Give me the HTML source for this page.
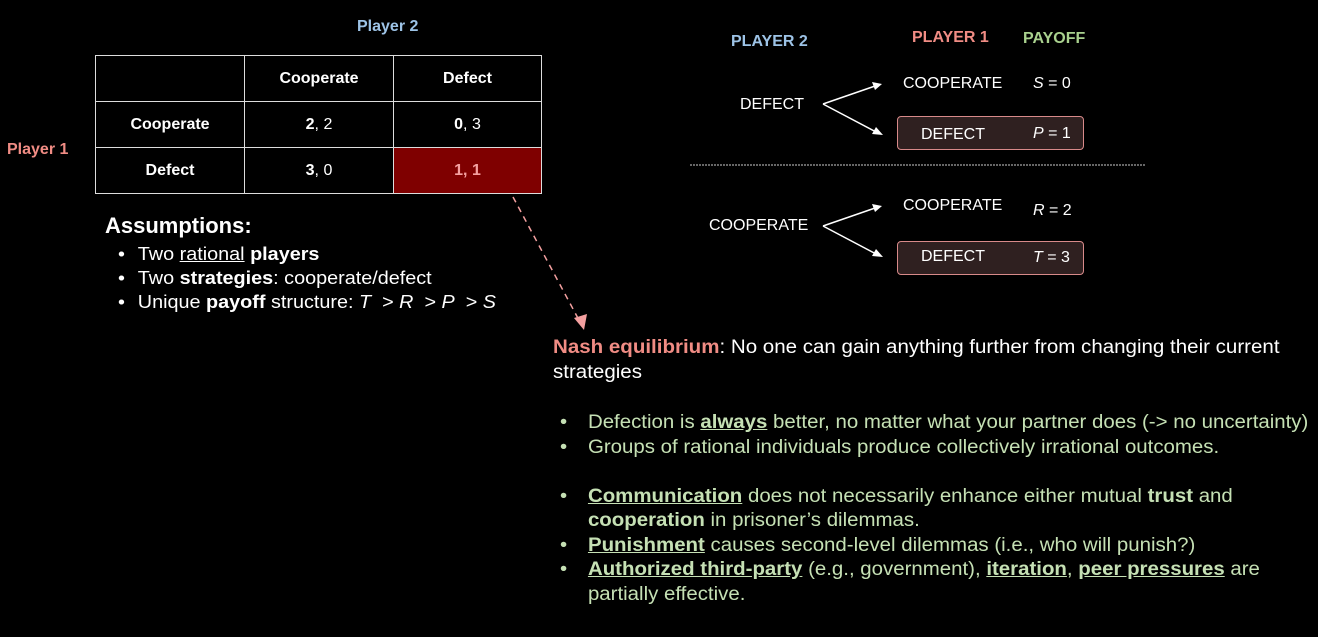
<!DOCTYPE html>
<html><head><meta charset="utf-8"><style>
body{margin:0;background:#000;width:1318px;height:637px;overflow:hidden;position:relative;font-family:"Liberation Sans",sans-serif;color:#fff}
.a{position:absolute;white-space:nowrap}
.c{position:absolute;display:flex;align-items:center;justify-content:center;font-weight:bold;font-size:16px;border:1px solid #ddd;box-sizing:border-box}
.g{color:#c5e0b4}
.b{font-weight:bold}
.u{text-decoration:underline}
.t{font-size:16px}
.box{position:absolute;left:897px;width:187px;height:34px;background:#2f2020;border:1.5px solid #d88a8a;border-radius:4px;box-sizing:border-box}
.li{position:relative;padding-left:26px}
.li:before{content:"•";position:absolute;left:0}
.as{position:absolute;left:118px;font-size:18px;white-space:nowrap;transform:scaleX(1.1);transform-origin:left}
</style></head><body>
<div class="a b" style="left:357px;top:18px;font-size:16px;color:#9dc3e6">Player 2</div>
<div class="a b" style="left:7px;top:141px;font-size:16px;color:#f08c84">Player 1</div>
<div class="c" style="left:95px;top:55px;width:150px;height:47px"></div>
<div class="c" style="left:244px;top:55px;width:150px;height:47px">Cooperate</div>
<div class="c" style="left:393px;top:55px;width:149px;height:47px">Defect</div>
<div class="c" style="left:95px;top:101px;width:150px;height:47px">Cooperate</div>
<div class="c" style="left:244px;top:101px;width:150px;height:47px">2<span style="font-weight:normal">, 2</span></div>
<div class="c" style="left:393px;top:101px;width:149px;height:47px">0<span style="font-weight:normal">, 3</span></div>
<div class="c" style="left:95px;top:147px;width:150px;height:47px">Defect</div>
<div class="c" style="left:244px;top:147px;width:150px;height:47px">3<span style="font-weight:normal">, 0</span></div>
<div class="c" style="left:393px;top:147px;width:149px;height:47px;background:#7f0000;color:#f4a0a0">1, 1</div>

<div class="a b" style="left:105px;top:213px;font-size:22px">Assumptions:</div>
<div class="as" style="top:244px"><span style="display:inline-block;width:18px">•</span>Two <span class="u">rational</span> <b>players</b></div>
<div class="as" style="top:268px"><span style="display:inline-block;width:18px">•</span>Two <b>strategies</b>: cooperate/defect</div>
<div class="as" style="top:292px"><span style="display:inline-block;width:18px">•</span>Unique <b>payoff</b> structure: <i>T</i> &nbsp;&gt; <i>R</i> &nbsp;&gt; <i>P</i> &nbsp;&gt; <i>S</i></div>

<svg class="a" style="left:0;top:0" width="1318" height="637">
<line x1="513" y1="197" x2="580" y2="322" stroke="#f4a0a0" stroke-width="1.5" stroke-dasharray="6,5"/>
<polygon points="584,330 574,318 587,314" fill="#f4a0a0"/>
<line x1="690" y1="165" x2="1145" y2="165" stroke="#ccc" stroke-width="1" stroke-dasharray="2,1"/>
<g stroke="#fff" stroke-width="1.5" fill="#fff">
<line x1="823" y1="104" x2="878" y2="85"/><polygon points="882,84 872,82 875,90" stroke="none"/>
<line x1="823" y1="104" x2="878" y2="133"/><polygon points="883,135 872,134 876,127" stroke="none"/>
<line x1="823" y1="226" x2="878" y2="207"/><polygon points="882,206 872,204 875,212" stroke="none"/>
<line x1="823" y1="226" x2="878" y2="255"/><polygon points="883,257 872,256 876,249" stroke="none"/>
</g>
</svg>

<div class="a b" style="left:731px;top:33px;font-size:16px;color:#9dc3e6">PLAYER 2</div>
<div class="a b" style="left:912px;top:29px;font-size:16px;color:#f08c84">PLAYER 1</div>
<div class="a b" style="left:1023px;top:30px;font-size:16px;color:#a9d18e">PAYOFF</div>
<div class="a t" style="left:740px;top:96px">DEFECT</div>
<div class="a t" style="left:903px;top:75px">COOPERATE</div>
<div class="a t" style="left:1033px;top:75px"><i>S</i> = 0</div>
<div class="box" style="top:116px"></div>
<div class="a t" style="left:921px;top:126px">DEFECT</div>
<div class="a t" style="left:1033px;top:125px"><i>P</i> = 1</div>
<div class="a t" style="left:709px;top:217px">COOPERATE</div>
<div class="a t" style="left:903px;top:197px">COOPERATE</div>
<div class="a t" style="left:1033px;top:202px"><i>R</i> = 2</div>
<div class="box" style="top:241px"></div>
<div class="a t" style="left:921px;top:248px">DEFECT</div>
<div class="a t" style="left:1033px;top:249px"><i>T</i> = 3</div>

<div class="a" style="left:553px;top:337px;font-size:19px;transform:scaleX(1.08);transform-origin:left"><b style="color:#f08c84">Nash equilibrium</b>: No one can gain anything further from changing their current</div>
<div class="a" style="left:553px;top:362px;font-size:19px;transform:scaleX(1.08);transform-origin:left">strategies</div>
<div class="g" style="position:absolute;left:560px;top:411px;font-size:19px;line-height:24.5px;white-space:nowrap;transform:scaleX(1.075);transform-origin:left">
<div class="li">Defection is <b class="u">always</b> better, no matter what your partner does (-&gt; no uncertainty)</div>
<div class="li">Groups of rational individuals produce collectively irrational outcomes.</div>
<div>&nbsp;</div>
<div class="li"><b class="u">Communication</b> does not necessarily enhance either mutual <b>trust</b> and<br><b>cooperation</b> in prisoner’s dilemmas.</div>
<div class="li"><b class="u">Punishment</b> causes second-level dilemmas (i.e., who will punish?)</div>
<div class="li"><b class="u">Authorized third-party</b> (e.g., government), <b class="u">iteration</b>, <b class="u">peer pressures</b> are<br>partially effective.</div>
</div>
</body></html>
